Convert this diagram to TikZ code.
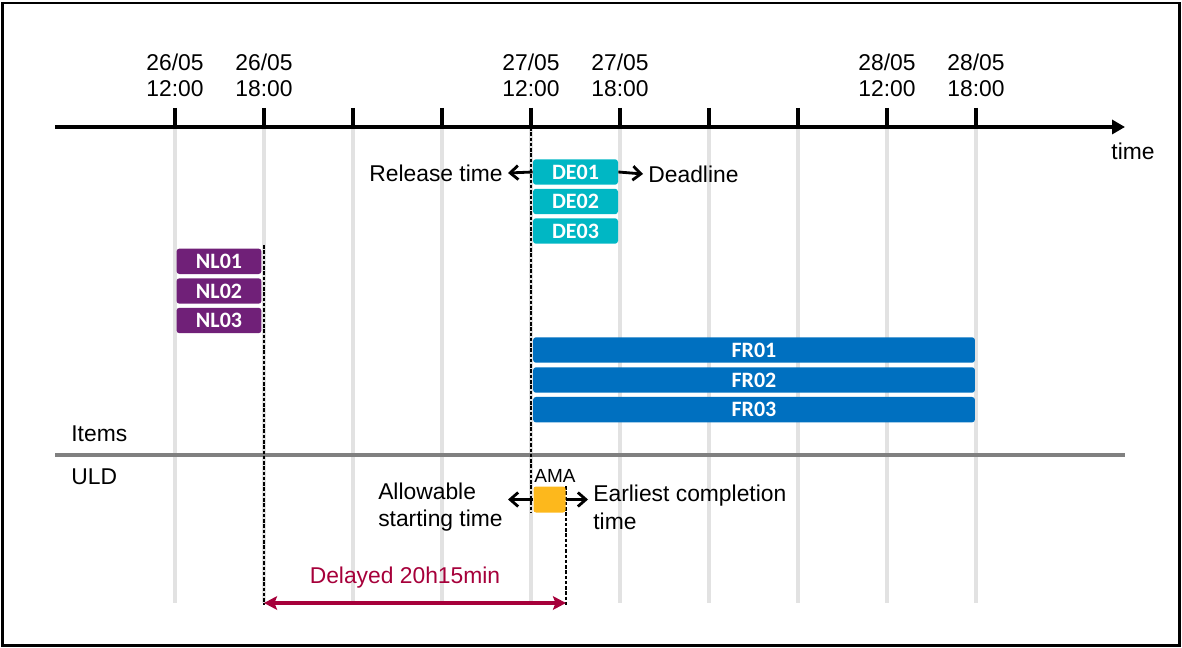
\documentclass[tikz,border=0pt]{standalone}
\usepackage{fontspec}
\setmainfont{Liberation Sans}
\newfontfamily\boxfont{Carlito}
\usetikzlibrary{arrows.meta,positioning}

\definecolor{deteal}{RGB}{0,183,196}
\definecolor{nlpurple}{RGB}{112,32,120}
\definecolor{frblue}{RGB}{0,112,192}
\definecolor{amaorange}{RGB}{253,184,28}
\definecolor{delayred}{RGB}{166,0,58}
\definecolor{gridgray}{RGB}{226,226,226}
\definecolor{sepgray}{RGB}{128,128,128}

\tikzset{
  item/.style={
    shape = rectangle,
    rounded corners = 0.06cm,
    inner sep = 0pt,
    minimum width = 1.7cm,
    minimum height = 0.51cm,
    text = white,
    font = \boxfont\bfseries\fontsize{12.5}{14}\selectfont
  },
  debox/.style={item, fill = deteal},
  nlbox/.style={item, fill = nlpurple},
  frbox/.style={item, fill = frblue, minimum width = 8.84cm},
  amabox/.style={
    shape = rectangle,
    rounded corners = 0.05cm,
    fill = amaorange,
    minimum width = 0.64cm,
    minimum height = 0.52cm,
    inner sep = 0pt
  },
}
\tikzset{
  lbl/.style={
    inner sep = 0.1cm,
    font = \fontsize{13}{15.8}\selectfont
  },
  datelbl/.style={
    align = center,
    inner sep = 0pt,
    font = \fontsize{13}{14.7}\selectfont
  },
  grid/.style={gridgray, line width = 1.8pt},
  axis/.style={line width = 1.9pt},
  tick/.style={line width = 1.9pt},
  guide/.style={line width = 1.3pt, dash pattern = on 2pt off 1pt},
  smallarr/.style={line width = 1.6pt, -{Straight Barb[length=0.16cm,width=0.28cm]}},
  delayarr/.style={
    delayred,
    line width = 2pt,
    {Stealth[length=0.26cm,width=0.27cm,inset=0.05cm]}-{Stealth[length=0.26cm,width=0.27cm,inset=0.05cm]}
  }
}

\begin{document}
\begin{tikzpicture}[x=0.02cm, y=-0.02cm]
  \useasboundingbox (0,0) rectangle (1182,648);
  \draw[line width=1.7pt] (2.5,3) rectangle (1179.5,645.5);

  % grid and ticks
  \foreach \x in {175,264,353,442,531,620,709,798,887,976} {
    \draw[grid] (\x,127) -- (\x,603);
    \draw[tick] (\x,108) -- (\x,127);
  }
  \draw[sepgray, line width=1.8pt] (55,455) -- (1125,455);
  \coordinate (axstart) at (55,127);
  \coordinate (axend) at (1125,127);
  \draw[axis, -{Triangle[length=0.26cm,width=0.28cm]}] (axstart) -- (axend);
  \node[lbl, inner sep=0pt] (timelbl) at (1133,151) {time};

  \node[datelbl] (d1) at (175,75) {26/05\\12:00};
  \node[datelbl] (d2) at (264,75) {26/05\\18:00};
  \node[datelbl] (d3) at (531,75) {27/05\\12:00};
  \node[datelbl] (d4) at (620,75) {27/05\\18:00};
  \node[datelbl] (d5) at (887,75) {28/05\\12:00};
  \node[datelbl] (d6) at (976,75) {28/05\\18:00};

  % dashed guides
  \coordinate (g1top) at (264,245);
  \coordinate (g1bot) at (264,605);
  \coordinate (g2top) at (531,127);
  \coordinate (g2bot) at (531,512);
  \coordinate (g3top) at (566,486);
  \coordinate (g3bot) at (566,605);
  \draw[guide] (g1top) -- (g1bot);
  \draw[guide] (g2top) -- (g2bot);
  \draw[guide] (g3top) -- (g3bot);

  % items
  \node[debox] (de1) at (575.5,172) {DE01};
  \node[debox] (de2) at (575.5,201.5) {DE02};
  \node[debox] (de3) at (575.5,231) {DE03};

  \node[nlbox] (nl1) at (219,261.3) {NL01};
  \node[nlbox] (nl2) at (219,291) {NL02};
  \node[nlbox] (nl3) at (219,320.5) {NL03};

  \node[frbox] (fr1) at (754,350) {FR01};
  \node[frbox] (fr2) at (754,380) {FR02};
  \node[frbox] (fr3) at (754,409.7) {FR03};

  \node[lbl, anchor=east] (rel) at (508,173) {Release time};
  \node[lbl, anchor=west] (dead) at (643,174) {Deadline};
  \draw[smallarr] (de1.west) -- (rel.east);
  \draw[smallarr] (de1.east) -- (dead.west);

  \node[lbl, inner sep=0pt, anchor=west] (items) at (71,434) {Items};
  \node[lbl, inner sep=0pt, anchor=west] (uld) at (71,477) {ULD};

  % ULD
  \node[amabox] (ama) at (549.5,499.5) {};
  \node[inner sep=0pt, font=\fontsize{10.8}{12}\selectfont] (amalbl) at (555,476) {AMA};
  \node[lbl, anchor=east, align=left] (allow) at (508,507) {Allowable\\starting time};
  \node[lbl, anchor=west, align=left] (earliest) at (588,507) {Earliest completion\\time};
  \draw[smallarr] (ama.west) -- (allow.east |- ama.west);
  \draw[smallarr] (ama.east) -- (earliest.west |- ama.east);

  \coordinate (dl) at (264,603);
  \coordinate (dr) at (566,603);
  \draw[delayarr] (dl) -- (dr);
  \node[lbl, delayred] (delay) at (405,578) {Delayed 20h15min};
\end{tikzpicture}
\end{document}
